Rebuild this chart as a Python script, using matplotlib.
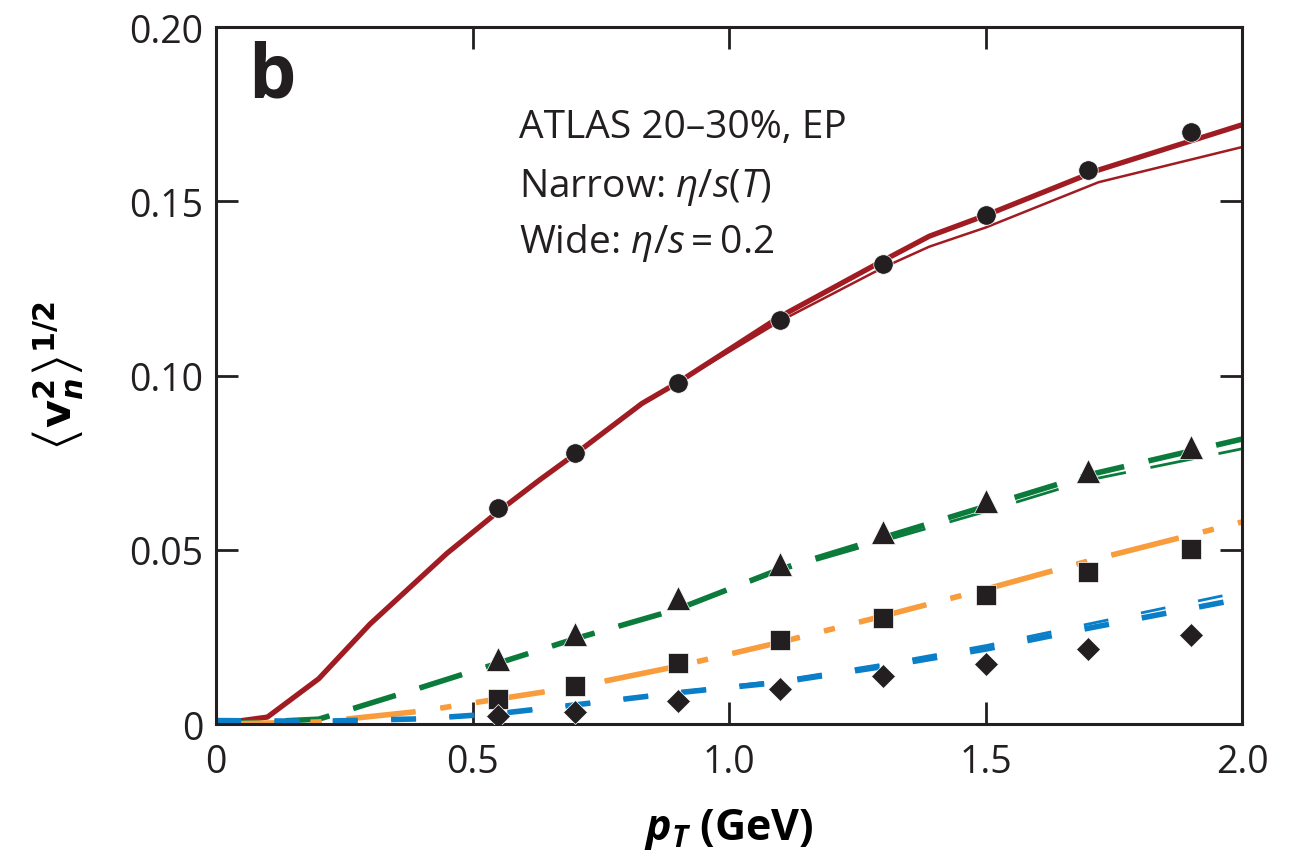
import matplotlib
matplotlib.use("Agg")
import matplotlib.pyplot as plt

plt.rcParams['font.family'] = ['Open Sans', 'DejaVu Sans']
plt.rcParams['mathtext.fontset'] = 'custom'
plt.rcParams['mathtext.rm'] = 'Open Sans'
plt.rcParams['mathtext.it'] = 'Open Sans:italic'
plt.rcParams['mathtext.bf'] = 'Open Sans:bold'
plt.rcParams['mathtext.bfit'] = 'Open Sans:italic:bold'

# data points (ATLAS)
pt_data = [0.55, 0.7, 0.9, 1.1, 1.3, 1.5, 1.7, 1.9]
v2_data = [0.062, 0.0778, 0.098, 0.116, 0.132, 0.146, 0.159, 0.170]
v3_data = [0.0187, 0.0258, 0.0362, 0.046, 0.055, 0.0640, 0.0725, 0.0795]
v4_data = [0.0072, 0.0109, 0.0175, 0.0241, 0.0304, 0.037, 0.0436, 0.0502]
v5_data = [0.0023, 0.0034, 0.0066, 0.0100, 0.0138, 0.0172, 0.0215, 0.0255]

# hydro curves
pt_curve = [0.0, 0.1, 0.2, 0.3, 0.45, 0.55, 0.63, 0.7, 0.83, 0.9, 1.1, 1.3, 1.39, 1.5, 1.72, 2.0]
v2_wide = [0.0, 0.002, 0.013, 0.0287, 0.049, 0.061, 0.070, 0.0775, 0.092, 0.098, 0.117, 0.133, 0.140, 0.146, 0.159, 0.172]
v2_narrow = [0.0, 0.002, 0.013, 0.0287, 0.049, 0.061, 0.070, 0.0775, 0.092, 0.098, 0.1157, 0.131, 0.137, 0.1425, 0.1555, 0.1656]

pt_line = [0.0, 0.2, 0.4, 0.55, 0.7, 0.9, 1.1, 1.3, 1.5, 1.7, 2.0]
v3_wide = [0.0, 0.0014, 0.0105, 0.0175, 0.0245, 0.033, 0.0445, 0.0535, 0.0625, 0.0715, 0.0818]
v3_narrow = [0.0, 0.0014, 0.0105, 0.0175, 0.0245, 0.033, 0.0440, 0.0525, 0.0610, 0.0700, 0.0790]
v4_wide = [0.0, 0.0006, 0.0037, 0.0072, 0.0106, 0.0166, 0.0235, 0.031, 0.0387, 0.0468, 0.058]
v4_narrow = [0.0, 0.0006, 0.0037, 0.0072, 0.0106, 0.0166, 0.0235, 0.031, 0.0387, 0.0468, 0.058]
v5_wide = [0.001, 0.0008, 0.0015, 0.003, 0.0055, 0.0090, 0.0120, 0.0165, 0.0215, 0.0275, 0.0360]
v5_narrow = [0.001, 0.0008, 0.0015, 0.003, 0.0055, 0.0092, 0.0125, 0.0172, 0.0225, 0.0287, 0.0380]

red = '#a01c22'
green = '#0b7b3c'
orange = '#f89c3c'
blue = '#0a7fc8'
black = '#231f20'

fig = plt.figure(figsize=(12.94, 8.53), dpi=100)
ax = fig.add_axes([0.167, 0.150, 0.793, 0.817])

ax.plot(pt_curve, v2_narrow, color=red, lw=1.8, zorder=2)
ax.plot(pt_curve, v2_wide, color=red, lw=3.8, zorder=2)

ax.plot(pt_line, v3_narrow, color=green, lw=2.0, dashes=(16, 9), zorder=2)
ax.plot(pt_line, v3_wide, color=green, lw=4.0, dashes=(8, 4.5), zorder=2)

ax.plot(pt_line, v4_narrow, color=orange, lw=2.0, dashes=(25, 9, 4, 9), zorder=2)
ax.plot(pt_line, v4_wide, color=orange, lw=4.0, dashes=(12.5, 4.5, 2, 4.5), zorder=2)

ax.plot(pt_line, v5_narrow, color=blue, lw=2.0, dashes=(9, 12), zorder=2)
ax.plot(pt_line, v5_wide, color=blue, lw=4.0, dashes=(4.5, 6), zorder=2)

ax.plot(pt_data, v2_data, 'o', color=black, ms=14, mec='white', mew=0.5, zorder=3)
ax.plot(pt_data, v3_data, '^', color=black, ms=17, mec='white', mew=0.5, zorder=3)
ax.plot(pt_data, v4_data, 's', color=black, ms=14, mec='white', mew=0.5, zorder=3)
ax.plot(pt_data, v5_data, 'D', color=black, ms=12.5, mec='white', mew=0.5, zorder=3)

ax.set_xlim(0, 2.0)
ax.set_ylim(0, 0.20)
ax.set_xticks([0, 0.5, 1.0, 1.5, 2.0])
ax.set_xticklabels(['0', '0.5', '1.0', '1.5', '2.0'])
ax.set_yticks([0, 0.05, 0.10, 0.15, 0.20])
ax.set_yticklabels(['0', '0.05', '0.10', '0.15', '0.20'])
ax.tick_params(direction='in', length=16, width=2, top=True, right=True,
               labelsize=27, color=black, labelcolor=black, pad=9)
ax.tick_params(axis='x', pad=14)
for s in ax.spines.values():
    s.set_linewidth(2.2)
    s.set_color(black)

ax.set_xlabel(r'$\mathbfit{p}_{\mathbfit{T}}$ (GeV)', fontsize=31, fontweight='bold', labelpad=18)
ax.set_ylabel(r'$\left\langle\mathbf{v}_{\mathbfit{n}}^{\mathbf{2}}\right\rangle^{\mathbf{1/2}}$',
              fontsize=31, fontweight='bold', labelpad=32, math_fontfamily='dejavusans')

ax.text(0.062, 0.1857, 'b', fontsize=54, fontweight='bold', va='center', ha='left', color=black)
ax.text(0.59, 0.1684, 'ATLAS 20–30%, EP', fontsize=28, va='baseline', ha='left', color=black)
ax.text(0.59, 0.1515, r'Narrow: $\mathit{\eta}/\mathit{s}(\mathit{T})$', fontsize=28, va='baseline', ha='left', color=black)
ax.text(0.59, 0.1354, r'Wide: $\mathit{\eta}/\mathit{s} = 0.2$', fontsize=28, va='baseline', ha='left', color=black)

fig.savefig('out.png', dpi=100)
